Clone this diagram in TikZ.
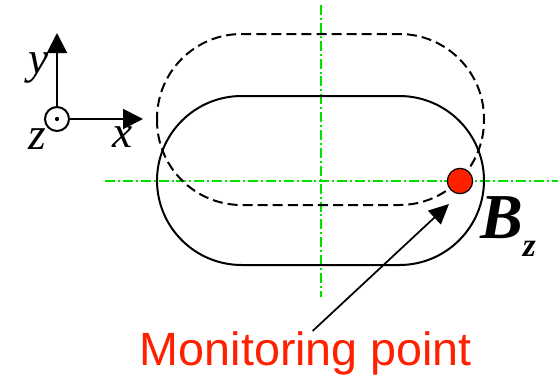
\documentclass[tikz,border=0pt]{standalone}
\usepackage{fontspec}
\setmainfont{Liberation Serif}
\newfontfamily\arialfont{Liberation Sans}
\usepackage{xcolor}
\usepackage{tikz}
\usetikzlibrary{arrows.meta, positioning}

\definecolor{cgreen}{RGB}{0,225,0}
\definecolor{cred}{RGB}{255,32,0}

\begin{document}
\begin{tikzpicture}[
  x=0.75pt, y=-0.75pt,
  coil/.style={line width=1.5pt, rounded corners=63.5pt},
  centre/.style={cgreen, line width=0.9pt,
                 dash pattern=on 7.5pt off 2.2pt on 1.5pt off 2.2pt},
  axis/.style={-{Triangle[length=15pt, width=15pt]}, line width=1.5pt},
  arr/.style={-{Triangle[length=15pt, width=14pt]}, line width=1.3pt},
  lbl/.style={font=\fontsize{34pt}{34pt}\selectfont\itshape, inner sep=0pt},
]
\useasboundingbox (0,0) rectangle (558,376);

% centre lines
\draw[centre] (321,5) -- (321,297);
\draw[centre] (105,181) -- (558,181);

% coil, shifted and original position
\draw[coil, dash pattern=on 7.5pt off 3.8pt] (157,34) rectangle (484,205);
\draw[coil] (157,96) rectangle (484,265);

% coordinate system
\node[draw, circle, line width=1.5pt, minimum size=18pt, inner sep=0pt]
  (zo) at (57,119) {};
\fill (zo.center) circle (1.6pt);
\coordinate (ytip) at (57,33);
\coordinate (xtip) at (143,119);
\draw[axis] (zo.north) -- (ytip);
\draw[axis] (zo.east) -- (xtip);
\node[lbl] (ylbl) at (39,68) {y};
\node[lbl] (zlbl) at (37,139) {z};
\node[lbl] (xlbl) at (123,137) {x};

% monitoring point
\node[circle, draw, fill=cred, line width=0.9pt, minimum size=19pt,
      inner sep=0pt] (pt) at (460,181) {};
\node[anchor=base west, inner sep=0pt,
      font=\fontsize{48pt}{48pt}\selectfont\bfseries\itshape]
  (bz) at (480,238) {B\raisebox{-14pt}{\fontsize{25pt}{25pt}\selectfont z}};

\node[anchor=base, inner sep=0pt, text=cred,
      font=\arialfont\fontsize{35pt}{35pt}\selectfont]
  (mon) at (306,365) {Monitoring point};
\coordinate (tip) at (449,204);
\draw[arr] ([xshift=5pt]mon.north) -- (tip);
\end{tikzpicture}
\end{document}
